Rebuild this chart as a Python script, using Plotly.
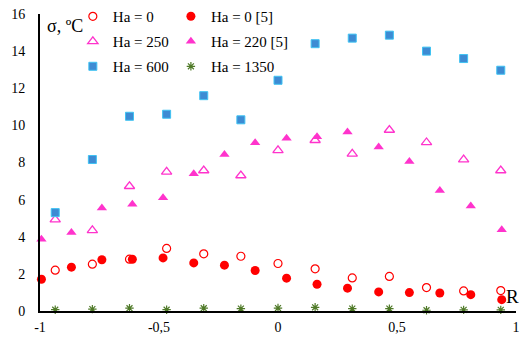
import plotly.graph_objects as go

x_sim = [-0.936, -0.78, -0.624, -0.468, -0.312, -0.156, 0, 0.156, 0.312, 0.468, 0.624, 0.78, 0.936]
x_ref = [-0.994, -0.868, -0.74, -0.612, -0.483, -0.354, -0.225, -0.096, 0.036, 0.164, 0.292, 0.423, 0.552, 0.68, 0.81, 0.94]

ha0 = [2.2, 2.52, 2.79, 3.37, 3.08, 2.95, 2.56, 2.27, 1.78, 1.86, 1.26, 1.08, 1.1]
ha0_ref = [1.71, 2.36, 2.76, 2.79, 2.86, 2.59, 2.47, 2.18, 1.77, 1.44, 1.23, 1.03, 0.99, 0.97, 0.88, 0.61]
ha250 = [4.92, 4.34, 6.72, 7.5, 7.57, 7.3, 8.65, 9.2, 8.47, 9.75, 9.08, 8.16, 7.57]
ha220_ref = [3.87, 4.23, 5.55, 5.75, 6.1, 7.4, 8.43, 9.06, 9.31, 9.39, 9.64, 8.83, 8.05, 6.49, 5.66, 4.38]
ha600 = [5.3, 8.16, 10.49, 10.6, 11.6, 10.3, 12.43, 14.4, 14.7, 14.86, 14.0, 13.6, 12.97]
ha1350 = [0.07, 0.1, 0.15, 0.07, 0.15, 0.13, 0.16, 0.2, 0.13, 0.13, 0.04, 0.06, 0.06]

x_tickvals = [-1, -0.5, 0, 0.5, 1]
x_ticktext = ["-1", "-0,5", "0", "0,5", "1"]
y_tickvals = [0, 2, 4, 6, 8, 10, 12, 14, 16]

FONT = "Liberation Serif, Times New Roman, serif"
RED = "#ff0000"
PINK = "#ff33cc"

fig = go.Figure()

def add(x, y, name, marker, legend):
    fig.add_trace(go.Scatter(x=x, y=y, mode="markers", name=name, marker=marker,
                             legend=legend, legendgroup=name, cliponaxis=False))

add(x_sim, ha0, "Ha = 0", dict(symbol="circle-open", size=8, color=RED, line=dict(width=1.2, color=RED)), "legend")
add(x_sim, ha250, "Ha = 250", dict(symbol="triangle-up-open", size=9, color=PINK, line=dict(width=1.3, color=PINK)), "legend")
add(x_sim, ha600, "Ha = 600", dict(symbol="square", size=8, color="#3d8bd3", line=dict(width=1, color="#3fc3f3")), "legend")
add(x_ref, ha0_ref, "Ha = 0 [5]", dict(symbol="circle", size=9, color=RED), "legend2")
add(x_ref, ha220_ref, "Ha = 220 [5]", dict(symbol="triangle-up", size=9, color=PINK), "legend2")
add(x_sim, ha1350, "Ha = 1350", dict(symbol="asterisk-open", size=7, color="#4f7a28", line=dict(width=1.2, color="#4f7a28")), "legend2")

leg_common = dict(orientation="v", yanchor="top", xanchor="left", bgcolor="rgba(0,0,0,0)",
                  font=dict(family=FONT, size=15, color="#000"), tracegroupgap=2.5, itemwidth=30)

fig.update_layout(
    width=522, height=337,
    margin=dict(l=40, r=6, t=14, b=26, autoexpand=False),
    paper_bgcolor="white", plot_bgcolor="white",
    font=dict(family=FONT, size=15, color="#000"),
    legend=dict(x=0.069, y=1.047, **leg_common),
    legend2=dict(x=0.275, y=1.047, **leg_common),
    xaxis=dict(range=[-1, 1], tickvals=x_tickvals, ticktext=x_ticktext, showgrid=False, zeroline=False,
               showline=True, linecolor="#000", linewidth=2, ticks="", ticklabelstandoff=2,
               automargin=False, tickfont=dict(family=FONT, size=14, color="#000")),
    yaxis=dict(range=[0, 16], tickvals=y_tickvals, showgrid=False, zeroline=False,
               showline=True, linecolor="#000", linewidth=2, ticks="", ticklabelstandoff=10,
               automargin=False, tickfont=dict(family=FONT, size=14, color="#000")),
    annotations=[
        dict(text="σ, ºC", xref="paper", yref="paper", x=0.01, y=1.0, xanchor="left", yanchor="top",
             showarrow=False, font=dict(family=FONT, size=18, color="#000")),
        dict(text="R", xref="paper", yref="y", x=1.01, y=0.8, xanchor="right", yanchor="middle",
             showarrow=False, font=dict(family=FONT, size=19, color="#000")),
    ],
)

fig.write_html("out.html")
